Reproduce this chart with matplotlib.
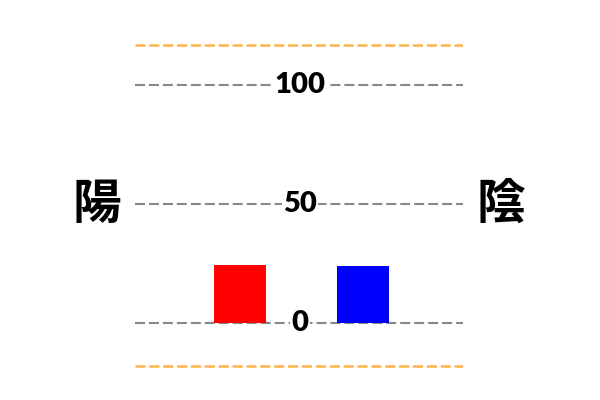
import matplotlib
matplotlib.use("Agg")
import matplotlib.pyplot as plt

# data
categories = ["陽", "陰"]
values = [24.5, 24]
bar_colors = ["#ff0000", "#0000ff"]
grid_values = [0, 50, 100]
bound_values = [-18, 117]

fig = plt.figure(figsize=(6, 4), dpi=100)
ax = fig.add_axes([0.225, 0.0735, 0.547, 0.833])

xs = list(range(len(values)))
ax.bar(xs, values, width=0.423, color=bar_colors, zorder=3)

for g in grid_values:
    ax.axhline(g, color="#888888", lw=1.5, dashes=(4.8, 1.9), zorder=1)
    ax.text(0.503, g, str(g), transform=ax.get_yaxis_transform(),
            ha="center", va="center", fontsize=21, fontweight="heavy",
            family=["Lato", "DejaVu Sans"], zorder=4,
            bbox=dict(facecolor="white", edgecolor="none", pad=1.0))

for b in bound_values:
    ax.axhline(b, color="#ffb347", lw=1.8, dashes=(4.0, 1.55), zorder=1)

ax.set_xlim(-0.854, 1.813)
ax.set_ylim(-20, 120)
ax.axis("off")

# side labels
fig.text(97 / 600, 1 - 204 / 400, categories[0], ha="center", va="center",
         fontsize=35, fontweight="bold", family=["Noto Sans CJK JP", "DejaVu Sans"])
fig.text(501 / 600, 1 - 204 / 400, categories[1], ha="center", va="center",
         fontsize=35, fontweight="bold", family=["Noto Sans CJK JP", "DejaVu Sans"])

fig.savefig("out.png", dpi=100)
